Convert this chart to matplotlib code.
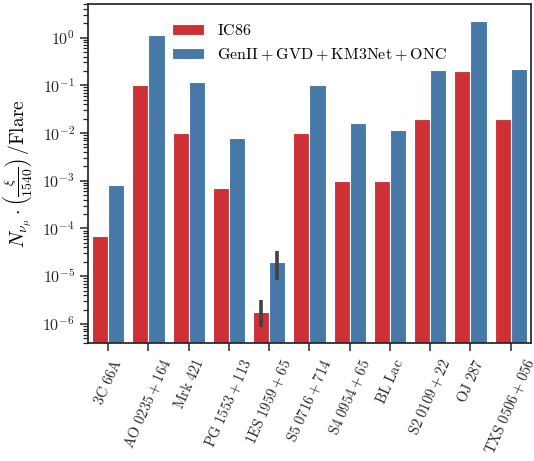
import numpy as np
import matplotlib
matplotlib.use('Agg')
import matplotlib.pyplot as plt
from matplotlib.ticker import FuncFormatter, LogLocator, NullFormatter

plt.rcParams.update({
    'mathtext.fontset': 'cm',
    'font.family': 'serif',
    'font.serif': ['DejaVu Serif'],
    'axes.edgecolor': '#262626',
    'axes.linewidth': 1.25,
    'xtick.color': '#262626',
    'ytick.color': '#262626',
})

# sources and neutrino counts per flare
sources = ['3C 66A', 'AO 0235 + 164', 'Mrk 421', 'PG 1553 + 113', '1ES 1959 + 65',
           'S5 0716 + 714', 'S4 0954 + 65', 'BL Lac', 'S2 0109 + 22', 'OJ 287',
           'TXS 0506 + 056']
ic86 = [7e-5, 0.1, 1e-2, 7e-4, 1.8e-6, 1e-2, 1e-3, 1e-3, 2e-2, 0.2, 2e-2]
future = [8e-4, 1.15, 0.115, 8e-3, 2e-5, 0.1, 1.6e-2, 1.15e-2, 0.21, 2.25, 0.22]

# error range (only 1ES 1959 + 65 has one)
ic86_lo = [np.nan] * 4 + [8.5e-7] + [np.nan] * 6
ic86_hi = [np.nan] * 4 + [3.2e-6] + [np.nan] * 6
future_lo = [np.nan] * 4 + [8.5e-6] + [np.nan] * 6
future_hi = [np.nan] * 4 + [3.3e-5] + [np.nan] * 6

series_labels = ['IC86', 'GenII + GVD + KM3Net + ONC']
colors = ['#cd3135', '#4678a8']


def mrm(s):
    # roman words, spaced plus signs
    parts = [r'\mathrm{' + p.replace(' ', r'\ ') + '}' for p in s.split(' + ')]
    return '$' + r'\:+\:'.join(parts) + '$'


fig = plt.figure(figsize=(5.34, 4.61), dpi=100)
ax = fig.add_axes([0.165, 0.256, 0.829, 0.735])

x = np.arange(len(sources))
w = 0.4
ax.bar(x - w / 2, ic86, width=w, color=colors[0], edgecolor='white', linewidth=0.8,
       label=mrm(series_labels[0]))
ax.bar(x + w / 2, future, width=w, color=colors[1], edgecolor='white', linewidth=0.8,
       label=mrm(series_labels[1]))
ax.vlines(x - w / 2, ic86_lo, ic86_hi, color='#424242', linewidth=2.6)
ax.vlines(x + w / 2, future_lo, future_hi, color='#424242', linewidth=2.6)

ax.set_yscale('log')
ax.set_ylim(4e-7, 5)
ax.set_xlim(-0.5, len(sources) - 0.5)

ax.yaxis.set_major_locator(LogLocator(base=10, numticks=12))
ax.yaxis.set_minor_locator(LogLocator(base=10, subs=np.arange(2, 10), numticks=12))
ax.yaxis.set_minor_formatter(NullFormatter())
ax.yaxis.set_major_formatter(FuncFormatter(lambda v, p: r'$10^{%d}$' % round(np.log10(v))))
ax.tick_params(axis='y', which='major', length=6, width=1.1, labelsize=11.5)
ax.tick_params(axis='y', which='minor', length=3.5, width=0.9)
ax.tick_params(axis='x', length=6, width=1.1)

ax.set_xticks(x)
ax.set_xticklabels([mrm(s) for s in sources], rotation=66, ha='center', fontsize=10.5)

ax.set_ylabel(r'$N_{\nu_\mu}\cdot\left(\frac{\xi}{1540}\right)\,/\mathrm{Flare}$',
              fontsize=14, labelpad=6)

ax.legend(loc='upper center', frameon=False, fontsize=11.5, handlelength=2.0,
          borderaxespad=0.7, labelspacing=0.45)

plt.savefig('out.png', dpi=100)
plt.close(fig)
